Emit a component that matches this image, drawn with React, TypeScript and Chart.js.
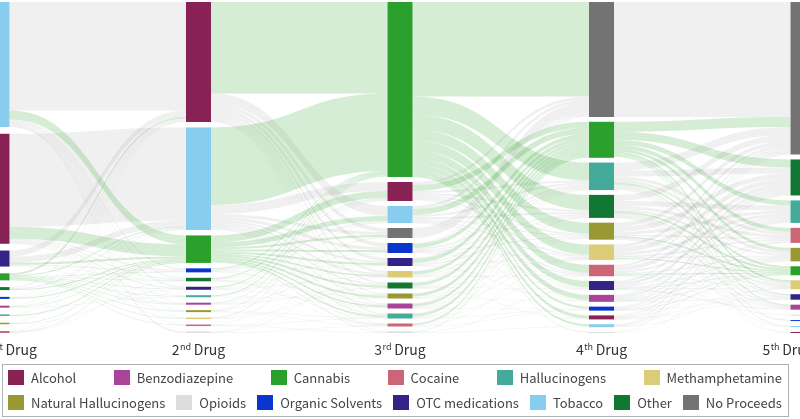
import React, { useEffect, useRef } from "react";
import { Chart, registerables } from "chart.js";
Chart.register(...registerables);

const A = "Alcohol";
const B = "Benzodiazepine";
const C = "Cannabis";
const K = "Cocaine";
const H = "Hallucinogens";
const M = "Methamphetamine";
const N = "Natural Hallucinogens";
const P = "Opioids";
const S = "Organic Solvents";
const X = "OTC medications";
const T = "Tobacco";
const O = "Other";
const Z = "No Proceeds";

const categories = [A, B, C, K, H, M, N, P, S, X, T, O, Z];
const categoryColors = [
  "#882255", "#AA4499", "#2CA02C", "#CC6677", "#44AA99", "#DDCC77",
  "#999933", "#DDDDDD", "#0A35CF", "#332288", "#88CCEE", "#117733", "#737373",
];
const highlightCategory = C;

const stageNumbers = ["1", "2", "3", "4", "5"];
const stageSuffixes = ["st", "nd", "rd", "th", "th"];
const stageWord = "Drug";

const stage1Nodes = [T, A, X, C, O, S, B, H, N, K];
const stage2Nodes = [A, T, C, S, O, X, H, B, N, M, K, P];
const stage3Nodes = [C, A, T, Z, S, X, M, O, N, B, H, K, P];
const stage4Nodes = [Z, C, H, O, N, M, K, X, B, S, A, T, P];
const stage5Nodes = [Z, O, H, K, N, C, M, X, B, P, S, T, A];

type Flow = [string, string, number];

const flows12: Flow[] = [
  [T, A, 108.5], [T, C, 9], [T, S, 1.5], [T, O, 1], [T, X, 1], [T, H, 0.5], [T, B, 0.5], [T, N, 0.5], [T, M, 0.5], [T, K, 0.5], [T, P, 1.5],
  [A, T, 93], [A, C, 12], [A, S, 1], [A, O, 1], [A, X, 1], [A, H, 0.5], [A, B, 0.5], [A, N, 0.5], [A, M, 0.5],
  [X, A, 6], [X, T, 6], [X, C, 2], [X, S, 1], [X, O, 0.5], [X, B, 0.5],
  [C, A, 2], [C, T, 1], [C, S, 0.5], [C, O, 0.5], [C, X, 0.5], [C, H, 0.5], [C, B, 0.5], [C, N, 0.5], [C, M, 0.5], [C, K, 0.5],
  [O, A, 1], [O, T, 1], [O, C, 1],
  [S, A, 0.5], [S, T, 0.5], [S, C, 1],
  [B, A, 0.5], [B, T, 0.5], [B, C, 0.5], [B, H, 0.5],
  [H, A, 0.5], [H, C, 1],
  [N, A, 0.5], [N, C, 0.5], [N, X, 0.5],
  [K, A, 0.5], [K, T, 0.5], [K, C, 0.5], [K, O, 0.5],
];

const flows23: Flow[] = [
  [A, C, 91.5], [A, T, 10], [A, Z, 4], [A, S, 4], [A, X, 3], [A, M, 2], [A, O, 1.5], [A, N, 1], [A, B, 1], [A, H, 1], [A, K, 0.5], [A, P, 0.5],
  [T, C, 77.5], [T, A, 9], [T, Z, 3], [T, S, 3], [T, X, 2], [T, M, 2], [T, O, 1.5], [T, N, 1], [T, B, 1], [T, H, 1], [T, K, 0.5], [T, P, 0.5],
  [C, A, 7], [C, T, 5], [C, Z, 2], [C, S, 2], [C, X, 2], [C, M, 1.5], [C, O, 2], [C, N, 2], [C, B, 1.5], [C, H, 1.5], [C, K, 0.5],
  [S, C, 1], [S, A, 1], [S, T, 1], [S, X, 0.5], [S, B, 0.5],
  [O, C, 1], [O, A, 0.5], [O, T, 0.5], [O, H, 0.5], [O, N, 0.5], [O, K, 0.5],
  [X, C, 1], [X, A, 0.5], [X, S, 0.5], [X, M, 0.5], [X, B, 0.5],
  [H, C, 1], [H, A, 0.5], [H, N, 0.5],
  [B, C, 0.5], [B, T, 0.5], [B, X, 0.5], [B, O, 0.5],
  [N, C, 0.5], [N, Z, 0.5], [N, H, 0.5], [N, K, 0.5],
  [M, C, 0.5], [M, Z, 0.5], [M, O, 0.5],
  [K, A, 0.5], [K, H, 0.5], [K, P, 0.5],
  [P, S, 0.5], [P, K, 0.5], [P, M, 0.5],
];

const flows34: Flow[] = [
  [C, Z, 94.5], [C, H, 18], [C, O, 15], [C, N, 11], [C, M, 10], [C, K, 8], [C, X, 6], [C, B, 5], [C, S, 2], [C, A, 3], [C, T, 2], [C, P, 0.5],
  [A, Z, 3], [A, C, 6], [A, H, 2], [A, O, 2], [A, N, 1.5], [A, M, 1.5], [A, K, 1], [A, X, 0.5], [A, B, 0.5],
  [T, Z, 3], [T, C, 6], [T, H, 2], [T, O, 2], [T, N, 1], [T, M, 1], [T, K, 1], [T, X, 0.5], [T, A, 0.5],
  [Z, Z, 10],
  [S, Z, 1], [S, C, 4], [S, H, 1.5], [S, O, 1], [S, N, 1], [S, M, 0.5], [S, K, 0.5], [S, X, 0.5],
  [X, Z, 1], [X, C, 4], [X, H, 1], [X, O, 1], [X, B, 0.5], [X, M, 0.5],
  [M, Z, 0.5], [M, C, 3], [M, H, 1], [M, O, 0.5], [M, N, 0.5], [M, K, 0.5],
  [O, Z, 0.5], [O, C, 3], [O, H, 0.5], [O, N, 0.5], [O, M, 0.5], [O, X, 0.5], [O, A, 0.5],
  [N, C, 3], [N, H, 0.5], [N, O, 0.5], [N, M, 0.5], [N, B, 0.5],
  [B, Z, 0.5], [B, C, 2.5], [B, H, 0.5], [B, O, 0.5], [B, M, 0.5], [B, S, 0.5],
  [H, Z, 0.5], [H, C, 2.5], [H, O, 0.5], [H, N, 0.5], [H, K, 0.5], [H, S, 0.5],
  [K, C, 1.5], [K, H, 0.5], [K, M, 0.5], [K, S, 0.5],
  [P, C, 0.5], [P, T, 0.5], [P, X, 0.5],
];

const flows45: Flow[] = [
  [Z, Z, 115],
  [C, Z, 10], [C, O, 8], [C, H, 5], [C, K, 4], [C, N, 3], [C, M, 2], [C, X, 1], [C, B, 1], [C, S, 0.5], [C, T, 0.5],
  [H, Z, 8], [H, O, 6], [H, K, 3], [H, N, 3], [H, C, 2], [H, M, 2], [H, X, 1], [H, B, 1], [H, S, 0.5], [H, A, 0.5],
  [O, Z, 6], [O, H, 5], [O, K, 3], [O, N, 2], [O, C, 2], [O, M, 2], [O, X, 1], [O, B, 1], [O, A, 0.5], [O, T, 0.5],
  [N, Z, 4], [N, O, 5], [N, H, 3], [N, K, 1.5], [N, C, 1.5], [N, M, 1], [N, X, 0.5], [N, B, 0.5],
  [M, Z, 3], [M, O, 5], [M, H, 3], [M, K, 1.5], [M, N, 1], [M, C, 1], [M, B, 0.5],
  [K, Z, 2], [K, O, 4], [K, H, 2], [K, N, 1], [K, C, 1], [K, M, 0.5], [K, X, 0.5], [K, P, 0.5],
  [X, Z, 1.5], [X, O, 3], [X, H, 1.5], [X, N, 1], [X, C, 0.5], [X, M, 0.5], [X, B, 1],
  [B, Z, 1], [B, O, 2], [B, H, 1], [B, K, 1], [B, N, 1], [B, C, 0.5], [B, X, 0.5],
  [S, Z, 0.5], [S, O, 1], [S, H, 1], [S, N, 0.5], [S, C, 0.5], [S, X, 0.5],
  [A, Z, 0.5], [A, O, 1], [A, H, 0.5], [A, K, 0.5], [A, N, 0.5], [A, M, 0.5], [A, X, 0.5],
  [T, Z, 0.5], [T, O, 1], [T, H, 0.5], [T, K, 0.5], [T, M, 0.5],
  [P, Z, 0.5], [P, N, 0.5],
];

const stageNodes = [stage1Nodes, stage2Nodes, stage3Nodes, stage4Nodes, stage5Nodes];
const stageFlows = [flows12, flows23, flows34, flows45];

const X_MIN = 0.0149;
const X_MAX = 3.985;
const Y_MAX = 331;
const NODE_W = 25;
const FONT = '"Noto Sans CJK JP", "Noto Sans", sans-serif';

function colorOf(name: string) {
  return categoryColors[categories.indexOf(name)];
}

const sankeyPlugin = {
  id: "sankeyDraw",
  afterDatasetsDraw(chart: any) {
    const ctx: CanvasRenderingContext2D = chart.ctx;
    const xs = chart.scales.x;
    const ys = chart.scales.y;
    const sum = (arr: number[]) => arr.reduce((a, b) => a + b, 0);

    const values = stageNodes.map((nodes, s) =>
      nodes.map((n) => {
        const outV = s < stageFlows.length ? sum(stageFlows[s].filter((f) => f[0] === n).map((f) => f[2])) : 0;
        const inV = s > 0 ? sum(stageFlows[s - 1].filter((f) => f[1] === n).map((f) => f[2])) : 0;
        return Math.max(inV, outV);
      })
    );
    const tops = values.map((vals) => {
      const total = sum(vals);
      const gap = (Y_MAX - total) / (vals.length - 1);
      let y = 0;
      return vals.map((v) => {
        const t = y;
        y += v + gap;
        return t;
      });
    });

    const linkShapes: { green: boolean; x0: number; x1: number; s0: number; s1: number; t0: number; t1: number }[] = [];
    stageFlows.forEach((flows, s) => {
      const src = stageNodes[s];
      const tgt = stageNodes[s + 1];
      const srcOff = src.map(() => 0);
      const tgtOff = tgt.map(() => 0);
      const srcStart = new Map<Flow, number>();
      const tgtStart = new Map<Flow, number>();
      const bySrc = [...flows].sort((a, b) => src.indexOf(a[0]) - src.indexOf(b[0]) || tgt.indexOf(a[1]) - tgt.indexOf(b[1]));
      bySrc.forEach((f) => {
        const i = src.indexOf(f[0]);
        srcStart.set(f, tops[s][i] + srcOff[i]);
        srcOff[i] += f[2];
      });
      const byTgt = [...flows].sort((a, b) => tgt.indexOf(a[1]) - tgt.indexOf(b[1]) || src.indexOf(a[0]) - src.indexOf(b[0]));
      byTgt.forEach((f) => {
        const j = tgt.indexOf(f[1]);
        tgtStart.set(f, tops[s + 1][j] + tgtOff[j]);
        tgtOff[j] += f[2];
      });
      flows.forEach((f) => {
        const a = srcStart.get(f)!;
        const b = tgtStart.get(f)!;
        linkShapes.push({
          green: f[0] === highlightCategory || f[1] === highlightCategory,
          x0: xs.getPixelForValue(s) + NODE_W / 2,
          x1: xs.getPixelForValue(s + 1) - NODE_W / 2,
          s0: ys.getPixelForValue(a),
          s1: ys.getPixelForValue(a + f[2]),
          t0: ys.getPixelForValue(b),
          t1: ys.getPixelForValue(b + f[2]),
        });
      });
    });
    ctx.save();
    [false, true].forEach((g) => {
      linkShapes.filter((l) => l.green === g).forEach((l) => {
        const xm = (l.x0 + l.x1) / 2;
        ctx.beginPath();
        ctx.moveTo(l.x0, l.s0);
        ctx.bezierCurveTo(xm, l.s0, xm, l.t0, l.x1, l.t0);
        ctx.lineTo(l.x1, l.t1);
        ctx.bezierCurveTo(xm, l.t1, xm, l.s1, l.x0, l.s1);
        ctx.closePath();
        ctx.fillStyle = g ? "rgba(44,160,44,0.2)" : "rgba(110,110,110,0.1)";
        ctx.fill();
      });
    });

    stageNodes.forEach((nodes, s) => {
      const cx = xs.getPixelForValue(s);
      nodes.forEach((n, i) => {
        const y0 = ys.getPixelForValue(tops[s][i]);
        const y1 = ys.getPixelForValue(tops[s][i] + values[s][i]);
        ctx.fillStyle = colorOf(n);
        ctx.fillRect(cx - NODE_W / 2, y0, NODE_W, Math.max(1, y1 - y0));
      });
    });

    const ly = chart.chartArea.bottom + 17;
    const W = chart.width;
    stageNumbers.forEach((num, s) => {
      const cx = Math.min(Math.max(xs.getPixelForValue(s), 12), W - 12);
      ctx.font = `14px ${FONT}`;
      const wNum = ctx.measureText(num).width;
      const wWord = ctx.measureText(" " + stageWord).width;
      ctx.font = `9px ${FONT}`;
      const wSuf = ctx.measureText(stageSuffixes[s]).width;
      const total = wNum + wSuf + wWord;
      let x = cx - total / 2;
      ctx.fillStyle = "#333";
      ctx.textAlign = "left";
      ctx.textBaseline = "alphabetic";
      ctx.font = `14px ${FONT}`;
      ctx.fillText(num, x, ly + 5);
      x += wNum;
      ctx.font = `9px ${FONT}`;
      ctx.fillText(stageSuffixes[s], x + 0.5, ly - 0.5);
      x += wSuf;
      ctx.font = `14px ${FONT}`;
      ctx.fillText(" " + stageWord, x, ly + 5);
    });
    ctx.restore();
  },
};

export default function App() {
  const ref = useRef<HTMLCanvasElement>(null);
  useEffect(() => {
    const chart = new Chart(ref.current as HTMLCanvasElement, {
      type: "scatter",
      data: { datasets: [{ data: [] }] },
      options: {
        responsive: false,
        animation: false,
        events: [],
        layout: { padding: { top: 2, bottom: 86, left: 0, right: 0 } },
        scales: {
          x: { type: "linear", min: X_MIN, max: X_MAX, display: false },
          y: { type: "linear", min: 0, max: Y_MAX, reverse: true, display: false },
        },
        plugins: { legend: { display: false }, tooltip: { enabled: false } },
      },
      plugins: [sankeyPlugin],
    } as any);
    return () => chart.destroy();
  }, []);

  const rows = [categories.slice(0, 6), categories.slice(6)];
  return (
    <div style={{ position: "fixed", left: 0, top: 0, width: 800, height: 419, background: "#fff", overflow: "hidden" }}>
      <canvas ref={ref} width={800} height={419} style={{ display: "block" }} />
      <div
        style={{
          position: "absolute", left: 2, top: 364, width: 787, height: 53, boxSizing: "border-box",
          border: "1px solid #aab2ba", padding: "0 6px 0 5px", fontFamily: FONT, fontSize: 13, color: "#444",
        }}
      >
        {rows.map((row, r) => (
          <div key={r} style={{ display: "flex", justifyContent: "space-between", alignItems: "center", height: 25 }}>
            {row.map((name) => (
              <div key={name} style={{ display: "flex", alignItems: "center", whiteSpace: "nowrap" }}>
                <span style={{ display: "inline-block", width: 16, height: 15, background: colorOf(name), marginRight: 7 }} />
                <span>{name}</span>
              </div>
            ))}
          </div>
        ))}
      </div>
    </div>
  );
}
